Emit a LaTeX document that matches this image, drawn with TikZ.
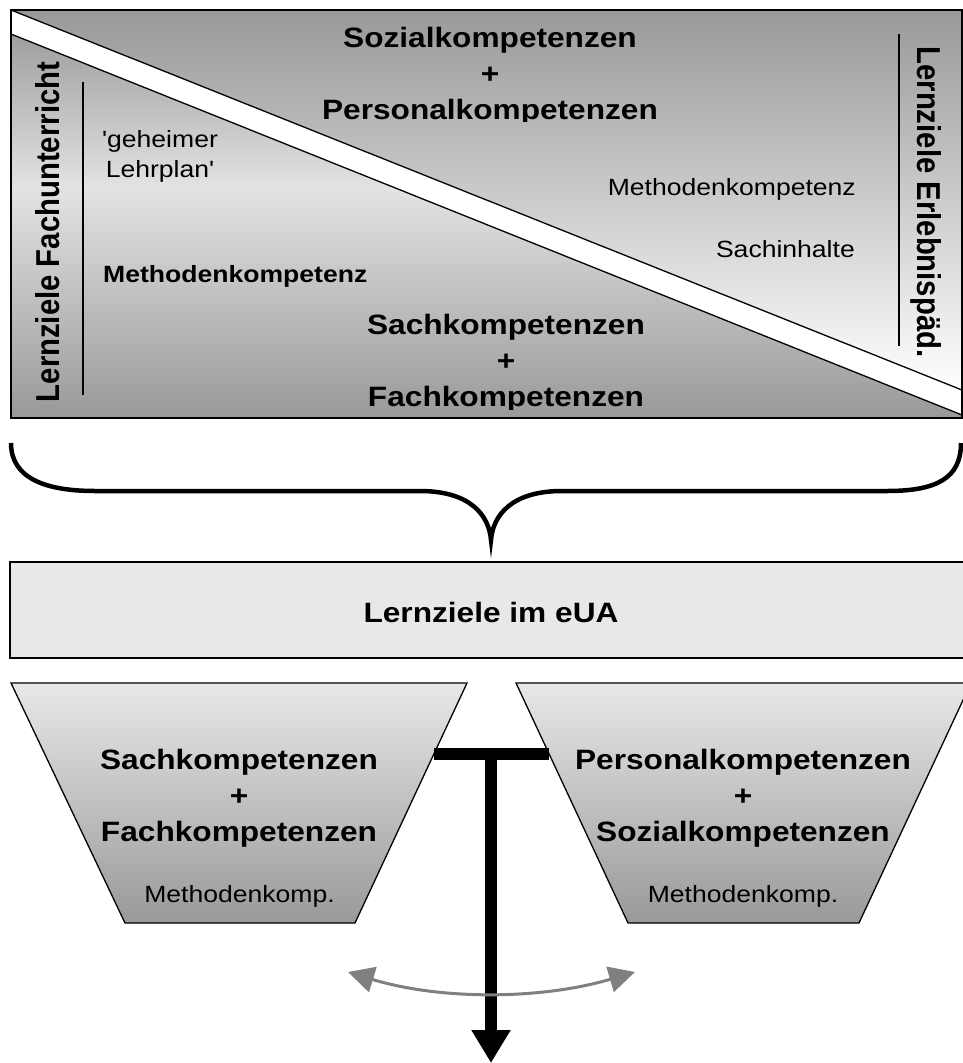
\documentclass[tikz,border=0pt]{standalone}
\usepackage{fontspec}
\usepackage{graphicx}
% Arial-like sans, slightly widened
\newfontfamily\mainsans{Liberation Sans}[FakeStretch=1.13]
\newfontfamily\plainsans{Liberation Sans}
\usetikzlibrary{arrows.meta}

% grey -> light -> grey, light band a little above the middle
\pgfdeclareverticalshading{lowerwedge}{100bp}{%
  color(0bp)=(black!40); color(25bp)=(black!40); color(55bp)=(black!11);
  color(75bp)=(black!38); color(100bp)=(black!38)}

\begin{document}
\begin{tikzpicture}[x=1pt,y=-1pt,
  bigtext/.style={font=\mainsans\bfseries\fontsize{28}{36}\selectfont, align=center, inner sep=0pt},
  smalltext/.style={font=\mainsans\fontsize{23.5}{30}\selectfont, align=center, inner sep=0pt},
  smallbold/.style={font=\mainsans\bfseries\fontsize{23.5}{30}\selectfont, inner sep=0pt},
  sidetext/.style={font=\plainsans\bfseries\fontsize{29.3}{30}\selectfont, inner sep=0pt},
  frame/.style={line width=1.5pt},
  edge/.style={line width=1.3pt},
  divider/.style={line width=1.2pt},
  funnel/.style={top color=black!9, bottom color=black!40, draw=black, line width=1.3pt},
  brace/.style={line width=4.5pt},
  swing/.style={black!50, line width=3pt, {Triangle[width=26pt,length=26pt]}-{Triangle[width=26pt,length=26pt]}}
]
\useasboundingbox (0,0) rectangle (963,1063);

% ---- upper panel: two wedges separated by a white band ----
\fill[white] (11,10) rectangle (962,418);
\shade[top color=black!40, bottom color=white] (11,10) -- (962,10) -- (962,390) -- cycle;
\draw[edge] (11,10) -- (962,390);
\shade[shading=lowerwedge] (11,34) -- (962,415) -- (962,418) -- (11,418) -- cycle;
\draw[edge] (11,34) -- (962,415);
\draw[frame] (11,10) rectangle (962,418);

\begin{scope}
  \clip (11,10) rectangle (962,121);
  \node[bigtext] (sozial) at (490,76.7) {Sozialkompetenzen\\+\\Personalkompetenzen};
\end{scope}
\begin{scope}
  \clip (11,300) rectangle (962,409);
  \node[bigtext] (sachfach) at (506,363.7) {Sachkompetenzen\\+\\Fachkompetenzen};
\end{scope}

\node[sidetext, rotate=90] (lzfach) at (48,232) {\scalebox{1}[1.13]{Lernziele Fachunterricht}};
\node[sidetext, rotate=-90] (lzerleb) at (926.5,202) {\scalebox{1}[1.13]{Lernziele Erlebnispäd.}};
\draw[divider] (83,82) -- (83,395);
\draw[divider] (899,34) -- (899,346);

\node[smalltext] (geheim) at (160,156) {'geheimer\\Lehrplan'};
\node[smallbold, anchor=base west] (methL) at (103,282) {Methodenkompetenz};
\node[smalltext, anchor=base east] (methR) at (856,195) {Methodenkompetenz};
\node[smalltext, anchor=base east] (sachinh) at (855,257) {Sachinhalte};

% ---- curly brace ----
\coordinate (bl) at (11,443);
\coordinate (br) at (961,443);
\coordinate (btip) at (491,540);
\draw[brace] (bl) .. controls (11,478) and (45,491) .. (95,491) -- (420,491)
  .. controls (470,491) and (489,515) .. (btip)
  .. controls (493,515) and (512,491) .. (562,491) -- (887,491)
  .. controls (937,491) and (961,478) .. (br);

% ---- summary box ----
\draw[line width=2.2pt, fill=black!9] (10,562) rectangle (975,658);
\node[bigtext, anchor=base] (eua) at (491,622) {Lernziele im eUA};

% ---- two funnels ----
\shadedraw[funnel] (11,683) -- (467,683) -- (355,923) -- (125,923) -- cycle;
\shadedraw[funnel] (516,683) -- (971,683) -- (859,923) -- (628,923) -- cycle;
\node[bigtext] (lfun) at (239,797.8) {Sachkompetenzen\\+\\Fachkompetenzen};
\node[bigtext] (rfun) at (743,797.8) {Personalkompetenzen\\+\\Sozialkompetenzen};
\node[smalltext, anchor=base] (lmeth) at (239.5,902) {Methodenkomp.};
\node[smalltext, anchor=base] (rmeth) at (743,902) {Methodenkomp.};

% ---- balance beam and output arrow ----
\coordinate (tl) at (434,754);
\coordinate (tr) at (549,754);
\coordinate (stemtop) at (491,748);
\coordinate (stemend) at (491,1063);
\draw[line width=12pt] (tl) -- (tr);
\draw[line width=12pt, -{Triangle[width=37pt,length=33pt]}] (stemtop) -- (stemend);

\coordinate (swL) at (348,972);
\coordinate (swR) at (635,972);
\draw[swing] (swL) .. controls (440,1000) and (540,1000) .. (swR);
\end{tikzpicture}
\end{document}
